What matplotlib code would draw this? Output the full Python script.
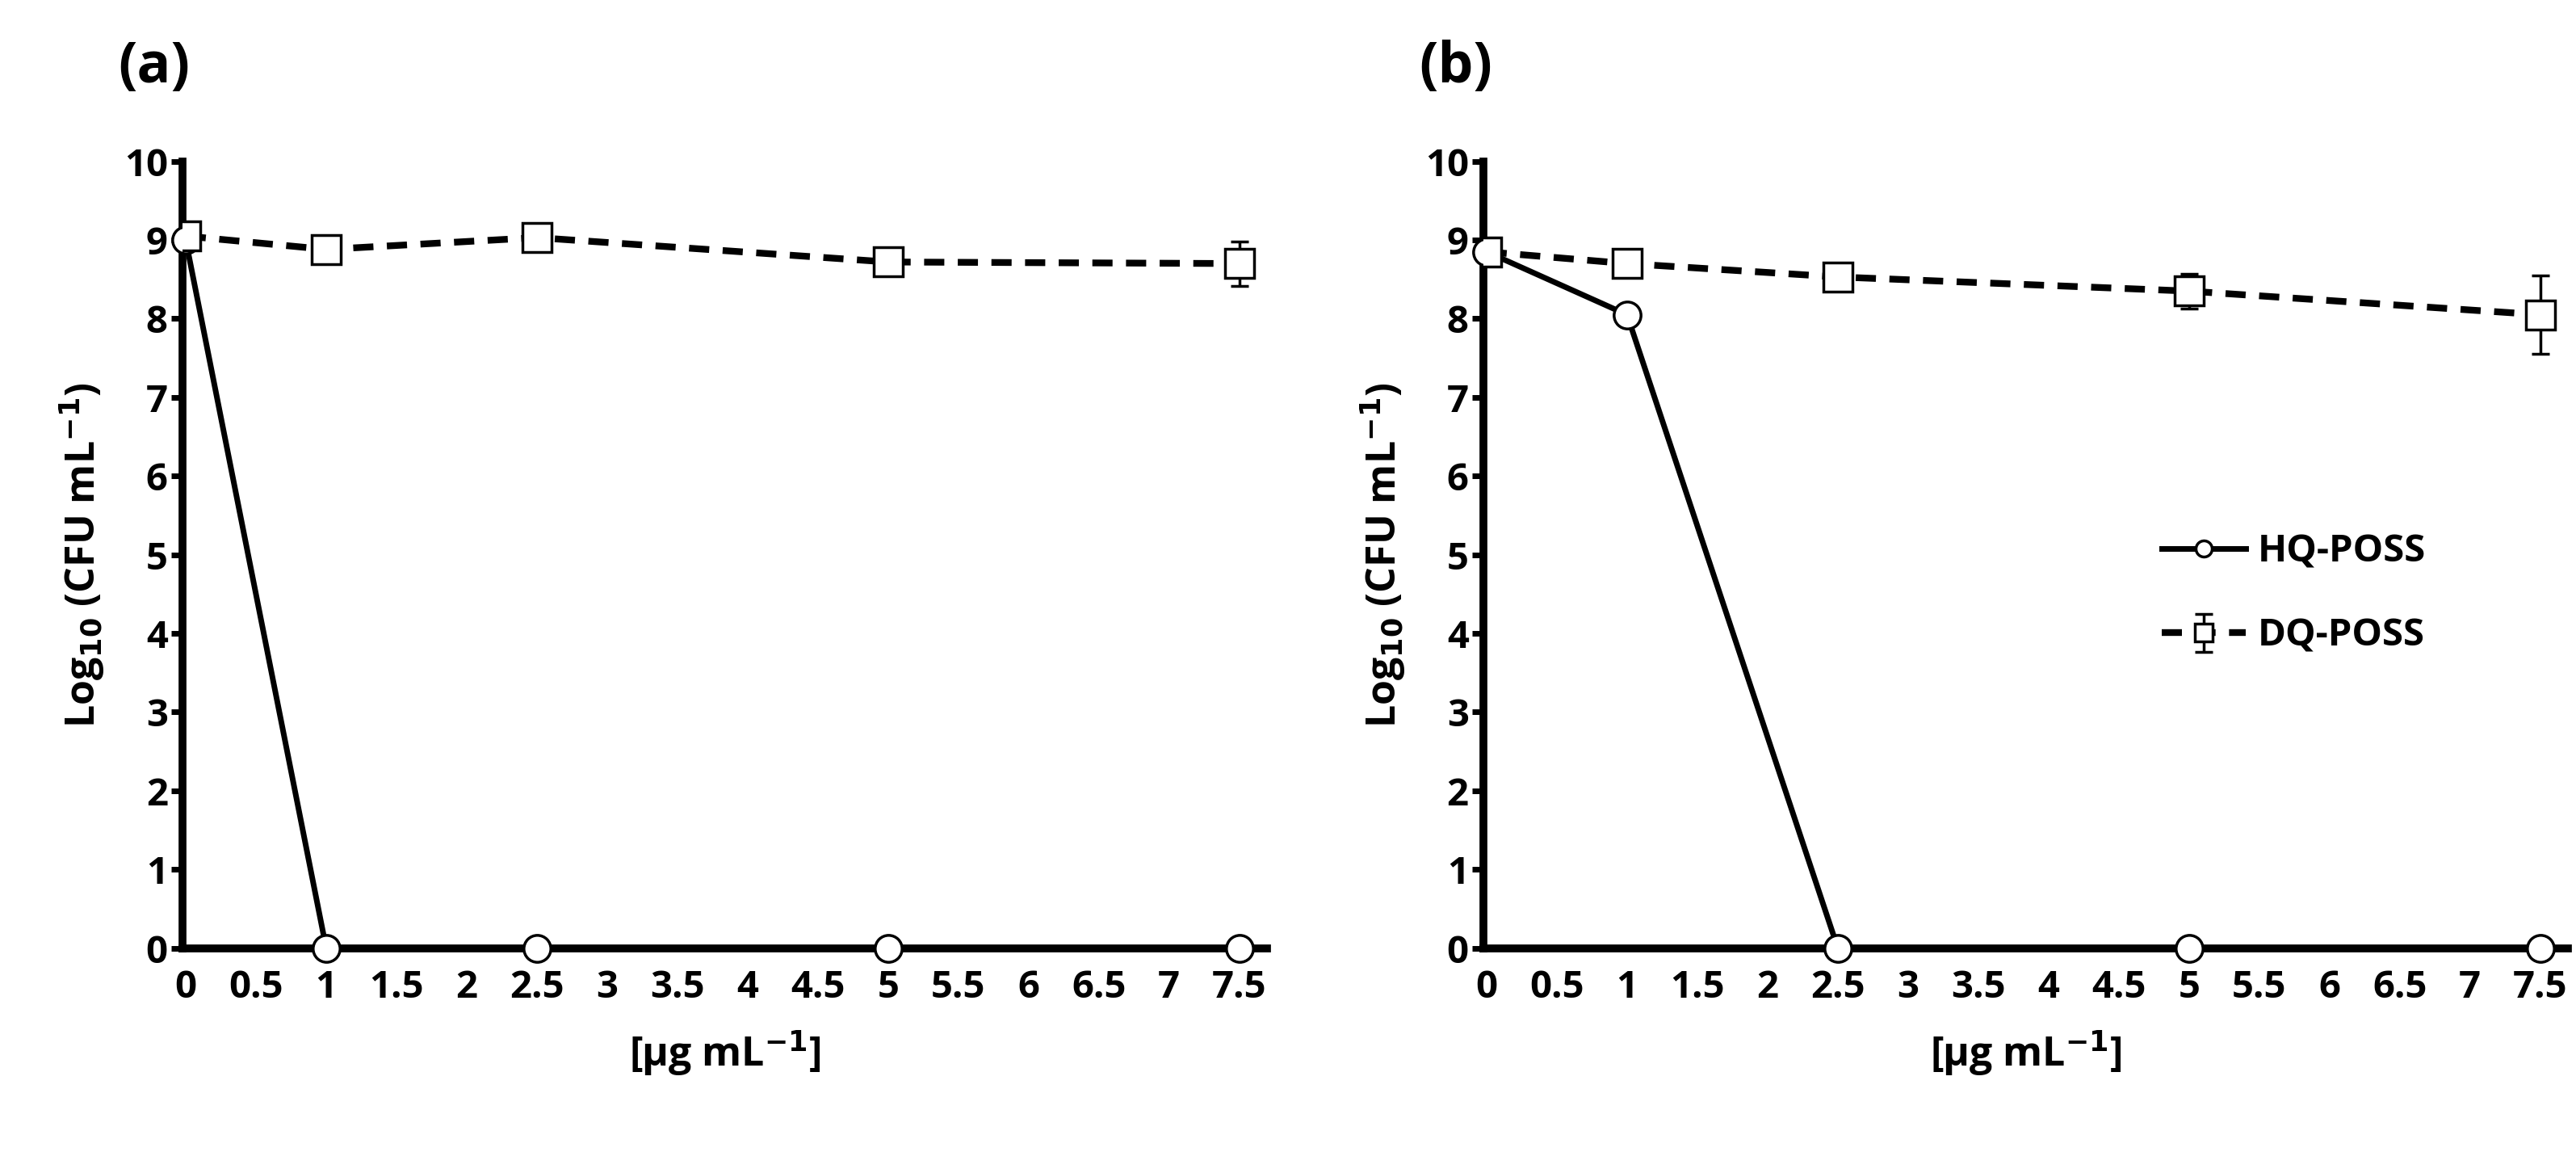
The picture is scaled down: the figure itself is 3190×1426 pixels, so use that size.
import numpy as np
import matplotlib
matplotlib.use("Agg")
import matplotlib.pyplot as plt

plt.rcParams['font.family'] = ['Open Sans', 'DejaVu Sans']
plt.rcParams['font.weight'] = 'bold'

conc = [0, 1, 2.5, 5, 7.5]

# panel (a)
hq_a = [9.0, 0, 0, 0, 0]
dq_a = [9.05, 8.88, 9.03, 8.72, 8.7]
dq_a_err = [0.03, 0.06, 0.05, 0.08, 0.28]

# panel (b)
hq_b = [8.85, 8.05, 0, 0, 0]
dq_b = [8.85, 8.7, 8.53, 8.35, 8.05]
dq_b_err = [0.05, 0.15, 0.08, 0.22, 0.5]

xticks = np.arange(0, 7.51, 0.5)
xticklabels = ["0", "0.5", "1", "1.5", "2", "2.5", "3", "3.5", "4", "4.5", "5", "5.5", "6", "6.5", "7", "7.5"]

fig = plt.figure(figsize=(31.9, 14.26), dpi=100)
ax_a = fig.add_axes([0.071, 0.177, 0.421, 0.683])
ax_b = fig.add_axes([0.576, 0.177, 0.421, 0.683])

for ax, hq, dq, err, tag in [(ax_a, hq_a, dq_a, dq_a_err, "(a)"), (ax_b, hq_b, dq_b, dq_b_err, "(b)")]:
    ax.plot(conc, hq, color='black', lw=5, marker='o', ms=24, mfc='white', mec='black',
            mew=2.5, label='HQ-POSS', zorder=3, clip_on=False)
    ax.errorbar(conc, dq, yerr=err, color='black', lw=6, ls=(0, (3, 2)), marker='s',
                ms=26, mfc='white', mec='black', mew=2.5, ecolor='black', elinewidth=2.5,
                capsize=8, capthick=2.5, label='DQ-POSS', zorder=4)
    ax.set_xlim(-0.02, 7.7)
    ax.set_ylim(0, 10)
    ax.set_yticks(range(0, 11))
    ax.set_xticks(xticks)
    ax.set_xticklabels(xticklabels)
    ax.tick_params(axis='both', labelsize=34, width=5, length=10, direction='out')
    ax.tick_params(axis='x', length=0, pad=18)
    ax.spines['top'].set_visible(False)
    ax.spines['right'].set_visible(False)
    ax.spines['left'].set_linewidth(7)
    ax.spines['bottom'].set_linewidth(7)
    ax.set_xlabel("[µg mL$^{\\mathbf{-1}}$]", fontsize=36, fontweight='bold', labelpad=20)
    ax.set_ylabel("Log$_{\\mathbf{10}}$ (CFU mL$^{\\mathbf{-1}}$)", fontsize=36, fontweight='bold', labelpad=15)
    ax.text(-0.06, 1.1, tag, transform=ax.transAxes, fontsize=50, fontweight='bold')

h, l = ax_b.get_legend_handles_labels()
ax_b.legend(h, l, loc='center right', bbox_to_anchor=(0.9, 0.45), frameon=False,
            fontsize=34, handlelength=2.2, handletextpad=0.3, labelspacing=1.2, markerscale=0.6)

fig.savefig("out.png", dpi=100)
